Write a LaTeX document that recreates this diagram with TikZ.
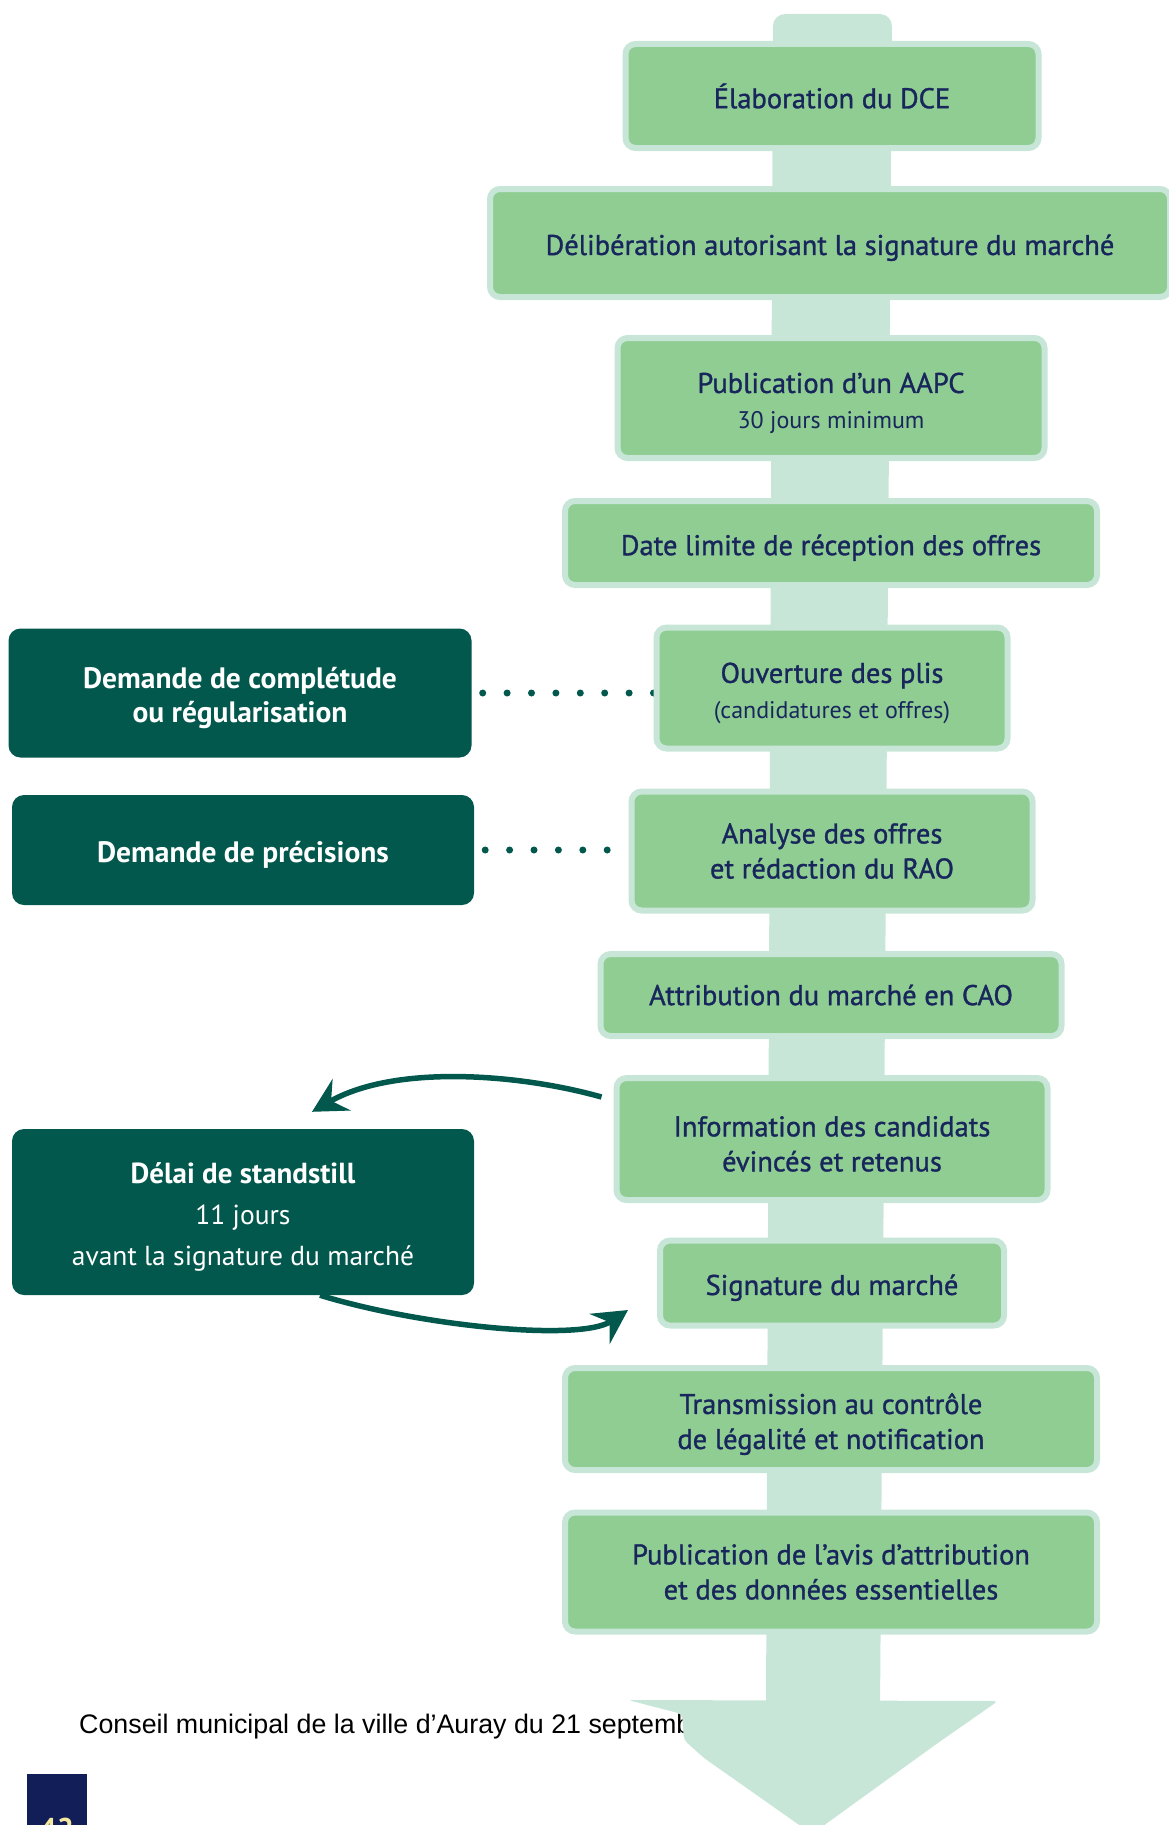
\documentclass[tikz,border=0pt]{standalone}
\usepackage{fontspec}
\setmainfont{PT Sans}
\newfontfamily\gsemi{PT Sans}[FakeBold=1.1]
\newfontfamily\greg{PT Sans}
\newfontfamily\arialf{Liberation Sans}
\usetikzlibrary{arrows.meta,calc}
\definecolor{mint}{RGB}{200,230,216}
\definecolor{leaf}{RGB}{143,205,147}
\definecolor{deep}{RGB}{2,88,76}
\definecolor{navy}{RGB}{24,38,92}
\definecolor{pagenavy}{RGB}{18,30,88}
\definecolor{cream}{RGB}{245,232,160}
\pgfdeclarelayer{bg}
\pgfsetlayers{bg,main}
\newcommand\fstrut{\rule{0pt}{30pt}}
\newcommand\dstrut{\rule{0pt}{31pt}}
\begin{document}
\begin{tikzpicture}[x=1pt,y=-1pt,
  gbox/.style={draw=mint, line width=6pt, fill=leaf, rounded corners=10pt,
    text=navy, font=\gsemi\fontsize{28.5}{35}\selectfont, align=center, inner sep=0pt},
  dbox/.style={fill=deep, rounded corners=12pt, text=white, align=center,
    inner sep=0pt, font=\greg\bfseries\fontsize{29.5}{34}\selectfont},
  dotline/.style={draw=deep, line width=7pt, line cap=round, dash pattern=on 0pt off 24.4pt},
  curvearrow/.style={draw=deep, line width=5.5pt, -{Stealth[length=34pt,width=36pt,inset=12pt]}}
]
\useasboundingbox (0,0) rectangle (1169,1825);

% ---- green steps
\node[gbox, minimum width=413, minimum height=104] (elab) at (832,96) {Élaboration du DCE};
\node[gbox, minimum width=680, minimum height=108] (delib) at (830,243) {\fstrut Délibération autorisant la signature du marché};
\node[gbox, minimum width=427, minimum height=120] (aapc) at (831,398) {\dstrut Publication d’un AAPC\\[1pt]{\greg\fontsize{24}{30}\selectfont 30 jours minimum}};
\node[gbox, minimum width=532, minimum height=84] (date) at (831,543) {\fstrut Date limite de réception des offres};
\node[gbox, minimum width=351, minimum height=121] (ouv) at (832,688) {\dstrut Ouverture des plis\\[1pt]{\greg\fontsize{24}{30}\selectfont (candidatures et offres)}};
\node[gbox, minimum width=401, minimum height=119] (ana) at (832,851) {Analyse des offres\\et rédaction du RAO};
\node[gbox, minimum width=461, minimum height=82] (attr) at (831,995) {Attribution du marché en CAO};
\node[gbox, minimum width=431, minimum height=122] (info) at (832,1139) {\fstrut Information des candidats\\évincés et retenus};
\node[gbox, minimum width=344, minimum height=85] (sig) at (832,1283) {\fstrut Signature du marché};
\node[gbox, minimum width=532, minimum height=102] (trans) at (831,1419) {\dstrut Transmission au contrôle\\de légalité et notification};
\node[gbox, minimum width=532, minimum height=119] (pub) at (831,1572) {Publication de l’avis d’attribution\\et des données essentielles};

% ---- dark side boxes
\node[dbox, minimum width=463, minimum height=129] (compl) at (240,693) {\dstrut Demande de complétude\\ou régularisation};
\node[dbox, minimum width=462, minimum height=110] (prec) at (243,850) {\dstrut Demande de précisions};
\node[dbox, minimum width=462, minimum height=166, font=\greg\fontsize{27.5}{41}\selectfont] (delai) at (243,1212)
  {\dstrut{\bfseries\fontsize{29}{41}\selectfont Délai de standstill}\\11 jours\\avant la signature du marché};

% ---- page number
\node[fill=pagenavy, minimum width=60, minimum height=60, anchor=north west, inner sep=0pt] (pbox) at (27,1774) {};
\node[text=cream, font=\greg\bfseries\fontsize{30}{30}\selectfont, anchor=base, inner sep=0pt] (pnum) at (57,1839) {42};

% ---- curved arrows
\coordinate (ua) at ($(info.west)+(-12,-42)$);
\coordinate (ub) at ($(delai.north)+(69,-17)$);
\coordinate (la) at ($(delai.south)+(77,0)$);
\coordinate (lb) at ($(sig.west)+(-29,27)$);
\draw[curvearrow] (ua) .. controls (520,1074) and (395,1064) .. (ub);
\draw[curvearrow] (la) .. controls (420,1326) and (580,1342) .. (lb);

% ---- background layer: footer, spine, big arrow, dotted links
\begin{pgfonlayer}{bg}
  \node[anchor=base west, inner sep=0pt, font=\arialf\fontsize{26.8}{30}\selectfont] (foot) at (79,1733)
    {Conseil municipal de la ville d’Auray du 21 septembre};
  \fill[mint, rounded corners=12pt] (773,14) -- (892,14) -- (880,1712) -- (766,1712) -- cycle;
  \fill[mint, rounded corners=4pt] (628,1700) -- (998,1701) -- (935,1745) -- (812,1834)
    -- (704,1758) -- (684,1740) -- (682,1714) -- cycle;
  \draw[dotline, shorten <=11pt] (compl.east) -- (compl.east -| ouv.west);
  \draw[dotline, shorten <=11pt] (prec.east) -- (prec.east -| ana.west);
\end{pgfonlayer}
\end{tikzpicture}
\end{document}
